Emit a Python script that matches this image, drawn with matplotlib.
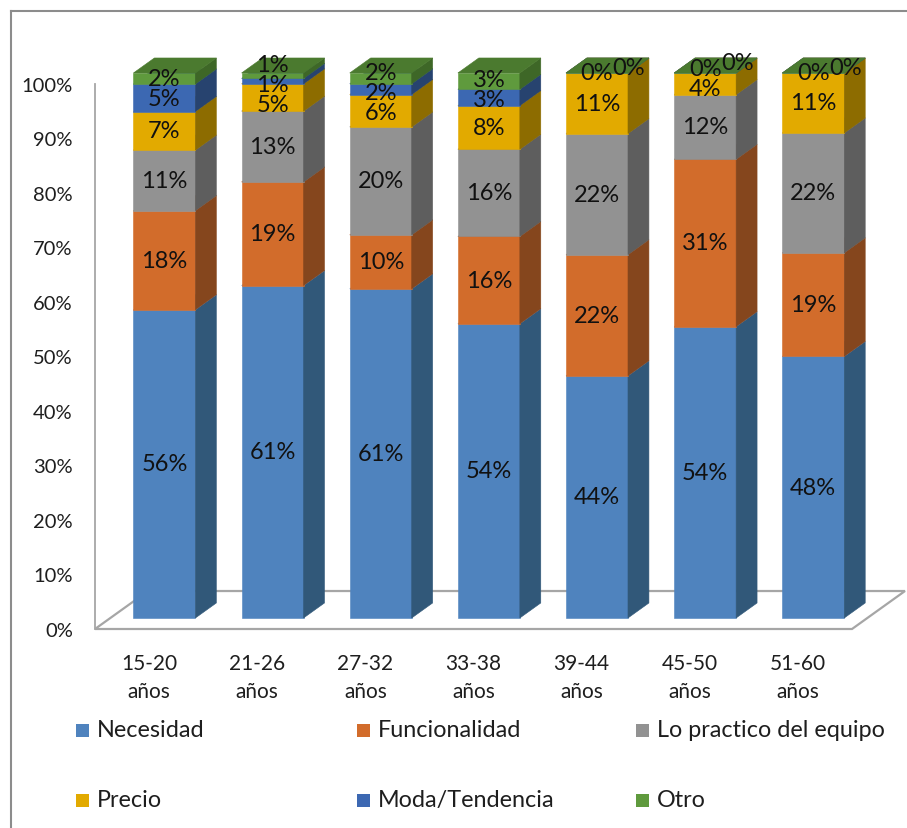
import matplotlib
matplotlib.use("Agg")
import matplotlib.pyplot as plt
from matplotlib.patches import Polygon, Rectangle
from matplotlib.lines import Line2D

plt.rcParams["font.family"] = ["Lato", "DejaVu Sans"]

# ---- data -------------------------------------------------------------
categories = ["15-20\naños", "21-26\naños", "27-32\naños", "33-38\naños",
              "39-44\naños", "45-50\naños", "51-60\naños"]
series_names = ["Necesidad", "Funcionalidad", "Lo practico del equipo",
                "Precio", "Moda/Tendencia", "Otro"]
necesidad = [56, 61, 61, 54, 44, 54, 48]
funcionalidad = [18, 19, 10, 16, 22, 31, 19]
practico = [11, 13, 20, 16, 22, 12, 22]
precio = [7, 5, 6, 8, 11, 4, 11]
moda = [5, 1, 2, 3, 0, 0, 0]
otro = [2, 1, 2, 3, 0, 0, 0]
yticks = list(range(0, 101, 10))

series = [necesidad, funcionalidad, practico, precio, moda, otro]

# 100 % stacked: each column is scaled to its own total
totals = [sum(col) for col in zip(*series)]
shares = [[100.0 * v / t for v, t in zip(vals, totals)] for vals in series]

# face colours: front, side, top
front_c = ["#4F83BE", "#D26C2B", "#929292", "#E2AA00", "#3C68B2", "#5F9A3D"]
side_c = ["#315879", "#85461D", "#5E5E5E", "#8D6C00", "#27436F", "#3E6727"]
top_c = ["#6A96CA", "#B55A22", "#7A7A7A", "#C39300", "#33599A", "#4B7A2F"]

W, H = 907, 829
fig = plt.figure(figsize=(W / 100, H / 100), dpi=100)
ax = fig.add_axes([95 / W, (H - 630) / H, 757 / W, 545 / H])
ax.set_xlim(-0.5, len(categories) - 0.5)
ax.set_ylim(0, 100)

# 3-D geometry in data units
DX, DY = 0.49, 6.97      # full floor depth
F0, F1 = 0.29, 0.685     # bar front / back depth fractions
BW = 0.573               # bar width
ddx, ddy = (F1 - F0) * DX, (F1 - F0) * DY

# floor
xa, xb = -0.5, len(categories) - 0.5
ax.add_patch(Polygon([(xa, 0), (xb, 0), (xb + DX, DY), (xa + DX, DY)],
                     closed=True, facecolor="white", edgecolor="#A6A6A6",
                     lw=1.6, clip_on=False, zorder=1))

# bars
for i in range(len(categories)):
    base = 0.0
    for s, vals in enumerate(shares):
        v = vals[i]
        x0 = i - BW / 2 + F0 * DX
        x1 = x0 + BW
        yb = base + F0 * DY
        yt = base + v + F0 * DY
        faces = [
            ([(x0, yb), (x1, yb), (x1, yt), (x0, yt)], front_c[s]),
            ([(x1, yb), (x1 + ddx, yb + ddy), (x1 + ddx, yt + ddy), (x1, yt)], side_c[s]),
            ([(x0, yt), (x1, yt), (x1 + ddx, yt + ddy), (x0 + ddx, yt + ddy)], top_c[s]),
        ]
        for pts, col in faces:
            ax.add_patch(Polygon(pts, closed=True, facecolor=col, edgecolor=col,
                                 lw=0.4, clip_on=False, zorder=2))
        base += v

# value labels, spread apart where they would collide
GAP = 20 / 5.45   # minimum vertical spacing in data units
for i in range(len(categories)):
    xc = i + F0 * DX
    labels = []
    base = 0.0
    prev_zero = False
    for s in range(len(series)):
        v = series[s][i]
        h = shares[s][i]
        y = base + h / 2 + F0 * DY
        if v == 0 and prev_zero:
            labels[-1]["twin"] = v
        else:
            labels.append({"y": y, "v": v, "twin": None})
        prev_zero = (v == 0)
        base += h
    ys = [lb["y"] for lb in labels]
    for _ in range(200):
        moved = False
        for j in range(len(ys) - 1):
            d = ys[j + 1] - ys[j]
            if d < GAP - 1e-6:
                m = (GAP - d) / 2
                ys[j] -= m
                ys[j + 1] += m
                moved = True
        if not moved:
            break
    for lb, y in zip(labels, ys):
        ax.text(xc, y, f"{lb['v']}%", ha="center", va="center",
                fontsize=17, color="#111111", zorder=5, clip_on=False)
        if lb["twin"] is not None:
            ax.annotate(f"{lb['twin']}%", (xc, y), xytext=(23, 4),
                        textcoords="offset points", ha="center", va="center",
                        fontsize=17, color="#111111", zorder=5,
                        annotation_clip=False)

# axes
for side in ("top", "right", "bottom"):
    ax.spines[side].set_visible(False)
ax.spines["left"].set_color("#A6A6A6")
ax.spines["left"].set_linewidth(1.3)
ax.set_yticks(yticks)
ax.set_yticklabels([f"{t}%" for t in yticks])
ax.set_xticks(range(len(categories)))
ax.set_xticklabels(categories)
ax.tick_params(axis="y", length=0, pad=16, labelsize=14.5, labelcolor="#1E1E1E")
ax.tick_params(axis="x", length=0, pad=17, labelsize=15, labelcolor="#1E1E1E")
for lbl in ax.get_xticklabels():
    lbl.set_linespacing(1.55)
ax.patch.set_alpha(0)

# legend (two rows of three)
col_x = [97, 378, 657]
row_y = [731, 801]
for k, name in enumerate(series_names):
    r, c = divmod(k, 3)
    tx, ty = col_x[c], row_y[r]
    fig.add_artist(Rectangle(((tx - 21) / W, 1 - (ty + 6.5) / H), 13 / W, 13 / H,
                             transform=fig.transFigure, facecolor=front_c[k],
                             edgecolor="none"))
    fig.text(tx / W, 1 - ty / H, name, ha="left", va="center",
             fontsize=16.8, color="#1E1E1E")

# chart frame
fig.add_artist(Line2D([11 / W, 1], [1 - 12 / H, 1 - 12 / H],
                      transform=fig.transFigure, color="#8C8C8C", lw=1.5))
fig.add_artist(Line2D([11 / W, 11 / W], [0, 1 - 12 / H],
                      transform=fig.transFigure, color="#8C8C8C", lw=1.5))

fig.savefig("out.png", dpi=100, facecolor="white")
